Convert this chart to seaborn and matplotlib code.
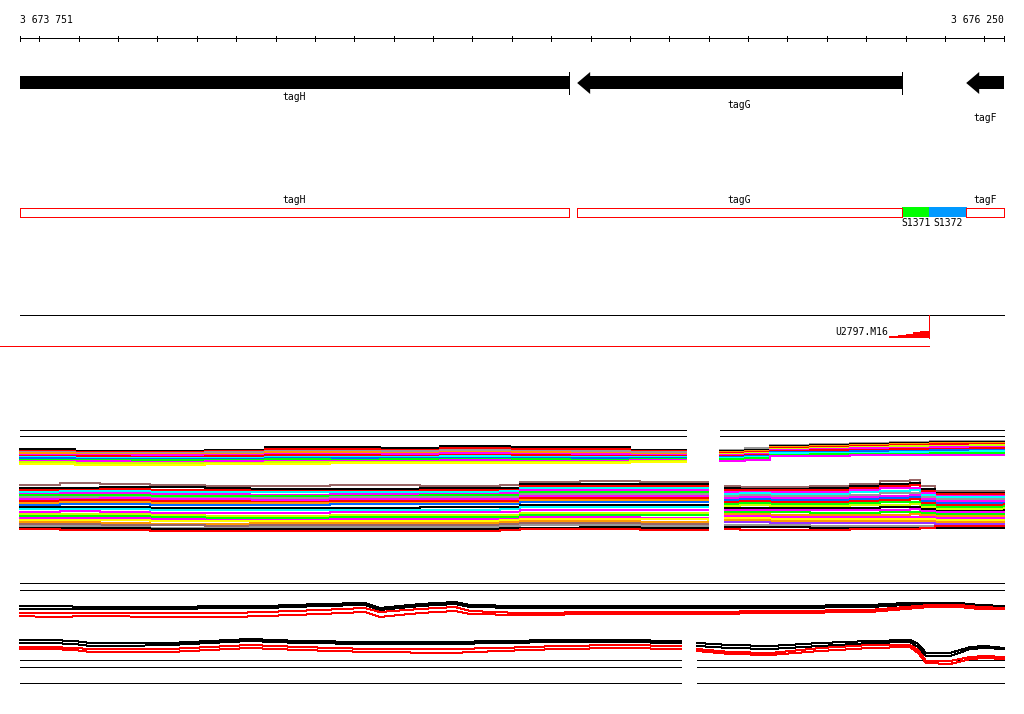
import numpy as np
import pandas as pd
import matplotlib
matplotlib.use("Agg")
import matplotlib.pyplot as plt
from matplotlib.patches import Rectangle, Polygon
import seaborn as sns

# ---- view ----
VIEW_START = 3673751
VIEW_END = 3676250

# ---- genes (minus strand, arrow points left) ----
gene_names = ["tagH", "tagG", "tagF"]
gene_start = [3673500, 3675166, 3676154]
gene_end = [3675145, 3675991, 3677000]
gene_label_y = [97, 105, 118]

# ---- segments between genes ----
seg_names = ["S1371", "S1372"]
seg_start = [3675991, 3676060]
seg_end = [3676060, 3676156]
seg_colors = ["#00ff00", "#0099ff"]

# ---- U2797.M16 feature ----
feat_name = "U2797.M16"
feat_line_start = 3673700
feat_end = 3676060
feat_step_x = [3675958, 3675981, 3676001, 3676019, 3676037, 3676060]
feat_step_y = [337, 336, 335, 334, 332, 331]

# ---- colours used in the signal tracks ----
C = {"k": "#000000", "r": "#ff0000", "m": "#ff00ff", "g": "#00ff00",
     "y": "#ffff00", "c": "#00ffff", "b": "#0066ff", "o": "#ff9900",
     "gr": "#999999", "br": "#996666", "ch": "#ccff00", "p": "#9933ff"}

# ---- block 1, horizontal guide lines ----
b1_guide_y = [430, 436]
b1_segs = [(3673751, 3675442), (3675529, 3676250)]

# block 1, upper left bundle
b1_ul_x = [3673751, 3673891, 3674030, 3674221, 3674373, 3674538,
           3674665, 3674818, 3674995, 3675148, 3675300, 3675442]
b1_ul_col = ["k", "r", "gr", "o", "m", "r", "c", "b", "g", "m", "ch", "y"]
b1_ul_y = [
    [449, 451, 451, 450, 447, 447, 448, 446, 447, 447, 450, 451],
    [451, 452, 452, 451, 449, 449, 450, 448, 449, 449, 451, 452],
    [452, 453, 453, 452, 451, 451, 451, 450, 451, 451, 452, 453],
    [453, 454, 454, 454, 452, 452, 453, 452, 452, 453, 454, 454],
    [455, 455, 455, 455, 454, 454, 454, 453, 454, 454, 455, 455],
    [456, 456, 457, 456, 455, 455, 456, 455, 455, 456, 456, 456],
    [457, 458, 458, 458, 457, 457, 457, 456, 457, 457, 457, 457],
    [458, 459, 459, 459, 458, 458, 458, 458, 458, 458, 458, 458],
    [460, 460, 460, 460, 459, 460, 459, 459, 459, 460, 459, 459],
    [461, 461, 462, 461, 461, 461, 461, 460, 461, 461, 460, 460],
    [462, 463, 463, 463, 462, 462, 462, 462, 462, 462, 461, 461],
    [464, 465, 465, 464, 464, 463, 463, 463, 463, 463, 462, 462],
]

# block 1, upper right bundle
b1_ur_x = [3675529, 3675592, 3675656, 3675757, 3675859, 3675960,
           3676062, 3676164, 3676250]
b1_ur_col = ["gr", "k", "o", "r", "ch", "m", "r", "b", "c", "g", "m"]
b1_ur_y = [
    [450, 448, 445, 444, 443, 442, 441, 441, 441],
    [451, 450, 446, 445, 444, 443, 442, 442, 442],
    [452, 451, 447, 446, 445, 444, 443, 443, 443],
    [453, 452, 448, 447, 446, 445, 444, 444, 444],
    [454, 453, 449, 448, 447, 446, 446, 445, 445],
    [455, 454, 450, 449, 448, 448, 447, 447, 447],
    [456, 455, 451, 450, 450, 449, 449, 448, 448],
    [457, 456, 452, 452, 451, 451, 450, 450, 450],
    [458, 457, 453, 453, 453, 452, 452, 451, 451],
    [459, 458, 455, 454, 454, 454, 453, 453, 453],
    [461, 460, 456, 456, 455, 455, 455, 455, 455],
]

# block 1, lower left bundle
b1_ll_x = [3673751, 3673853, 3673954, 3674081, 3674221, 3674335, 3674538,
           3674767, 3674970, 3675021, 3675173, 3675326, 3675498]
b1_ll_col = ["br", "k", "r", "c", "m", "g", "gr", "m", "r", "o", "b", "k",
             "c", "m", "ch", "g", "m", "y", "o", "br", "gr", "k", "r"]
b1_ll_y = [
    [485, 483, 484, 485, 486, 486, 485, 486, 485, 482, 481, 482, 483],
    [488, 488, 487, 487, 488, 489, 489, 488, 488, 484, 484, 484, 485],
    [490, 490, 489, 490, 490, 491, 491, 490, 490, 486, 486, 486, 487],
    [492, 491, 491, 492, 492, 492, 492, 492, 491, 488, 488, 488, 489],
    [494, 493, 493, 494, 494, 495, 494, 494, 493, 490, 490, 490, 490],
    [495, 495, 495, 496, 496, 496, 496, 495, 495, 492, 492, 492, 492],
    [497, 497, 497, 498, 498, 498, 497, 497, 497, 494, 494, 494, 494],
    [499, 499, 498, 499, 499, 500, 499, 499, 499, 496, 496, 496, 496],
    [501, 500, 500, 501, 501, 502, 501, 501, 501, 498, 498, 498, 498],
    [503, 502, 502, 503, 503, 503, 503, 503, 503, 500, 500, 500, 500],
    [505, 504, 504, 505, 505, 505, 504, 504, 504, 502, 502, 502, 502],
    [507, 507, 507, 508, 508, 508, 508, 507, 507, 505, 505, 505, 505],
    [509, 509, 509, 510, 510, 510, 510, 510, 509, 507, 507, 507, 507],
    [512, 511, 512, 513, 513, 513, 512, 512, 512, 510, 510, 510, 510],
    [514, 514, 514, 515, 516, 516, 515, 515, 515, 513, 513, 513, 513],
    [516, 516, 516, 517, 518, 518, 517, 517, 517, 515, 515, 515, 515],
    [518, 518, 518, 519, 520, 520, 519, 519, 519, 517, 517, 518, 518],
    [520, 520, 520, 521, 521, 521, 521, 521, 520, 519, 519, 519, 520],
    [522, 522, 523, 524, 524, 523, 523, 523, 522, 521, 521, 522, 522],
    [524, 524, 525, 525, 526, 525, 525, 525, 524, 523, 523, 524, 524],
    [526, 526, 527, 528, 528, 527, 527, 527, 526, 525, 525, 526, 526],
    [528, 528, 528, 529, 529, 529, 529, 529, 528, 528, 527, 528, 528],
    [529, 530, 530, 531, 531, 531, 531, 531, 530, 529, 529, 530, 530],
]

# block 1, lower right bundle
b1_lr_x = [3675541, 3675580, 3675656, 3675757, 3675859, 3675935,
           3676011, 3676037, 3676075, 3676151, 3676250]
b1_lr_col = ["br", "k", "r", "m", "c", "gr", "m", "b", "r", "g", "ch",
             "k", "m", "g", "o", "m", "y", "o", "p", "gr", "k", "r"]
b1_lr_y = [
    [486, 487, 487, 486, 484, 481, 480, 486, 491, 491, 491],
    [488, 489, 489, 488, 486, 484, 483, 489, 493, 493, 493],
    [490, 490, 490, 490, 488, 486, 485, 491, 494, 494, 494],
    [492, 492, 492, 492, 490, 488, 488, 493, 496, 496, 496],
    [494, 493, 494, 494, 492, 491, 490, 495, 497, 497, 497],
    [496, 495, 496, 496, 495, 493, 493, 497, 499, 499, 499],
    [498, 497, 498, 498, 497, 496, 495, 499, 501, 501, 501],
    [500, 499, 500, 500, 499, 498, 497, 501, 503, 503, 503],
    [502, 501, 502, 502, 501, 500, 499, 503, 505, 505, 504],
    [504, 503, 504, 504, 503, 502, 502, 505, 507, 507, 506],
    [506, 505, 506, 506, 505, 505, 504, 507, 509, 509, 508],
    [508, 508, 508, 508, 508, 507, 507, 509, 511, 511, 510],
    [510, 510, 510, 510, 510, 510, 509, 511, 512, 512, 512],
    [512, 512, 512, 513, 513, 512, 512, 513, 514, 514, 514],
    [514, 514, 515, 515, 515, 515, 514, 515, 516, 516, 516],
    [516, 516, 517, 517, 517, 517, 517, 517, 518, 518, 518],
    [518, 518, 519, 519, 519, 519, 519, 519, 520, 520, 520],
    [520, 520, 521, 521, 521, 521, 521, 521, 522, 522, 522],
    [522, 522, 523, 523, 523, 523, 523, 523, 524, 524, 524],
    [525, 525, 525, 526, 526, 526, 526, 526, 526, 527, 527],
    [527, 527, 527, 528, 528, 528, 528, 528, 528, 528, 528],
    [529, 530, 530, 530, 529, 529, 529, 528, 526, 526, 526],
]

# ---- block 2 ----
b2_top_y = [583, 590]
b2_bottom_y = [660, 667, 683]
b2_segs = [(3673751, 3675430), (3675470, 3676250)]

b2_up_x = [3673751, 3673827, 3673941, 3674119, 3674284, 3674373, 3674513,
           3674627, 3674665, 3674767, 3674856, 3674894, 3675021, 3675249,
           3675478, 3675681, 3675910, 3675999, 3676062, 3676138, 3676189,
           3676250]
b2_up_col = ["k", "k", "r", "r"]
b2_up_y = [
    [606, 606, 607, 607, 606, 606, 604, 603, 608, 604, 602, 605, 606, 606, 606, 606, 605, 603, 603, 603, 605, 606],
    [609, 609, 609, 609, 608, 608, 606, 605, 610, 606, 604, 607, 608, 608, 608, 608, 607, 605, 604, 604, 606, 607],
    [613, 613, 613, 613, 613, 612, 610, 608, 612, 609, 607, 611, 613, 612, 612, 611, 610, 607, 605, 605, 607, 608],
    [616, 617, 616, 617, 617, 616, 614, 612, 617, 613, 611, 614, 615, 614, 614, 613, 612, 609, 607, 607, 609, 609],
]

b2_ll_x = [3673751, 3673827, 3673891, 3673929, 3674005, 3674132, 3674335,
           3674462, 3674640, 3674843, 3674970, 3675122, 3675275, 3675430]
b2_ll_col = ["k", "k", "r", "r"]
b2_ll_y = [
    [640, 640, 641, 643, 643, 643, 639, 641, 642, 642, 641, 640, 640, 641],
    [643, 643, 644, 646, 646, 645, 641, 643, 644, 644, 643, 642, 642, 643],
    [647, 647, 648, 649, 649, 649, 645, 647, 649, 649, 648, 646, 645, 646],
    [649, 649, 650, 652, 652, 652, 648, 650, 652, 653, 651, 649, 648, 649],
]

b2_lr_x = [3675470, 3675554, 3675656, 3675783, 3675910, 3676011, 3676032,
           3676052, 3676113, 3676164, 3676202, 3676250]
b2_lr_col = ["k", "k", "r", "r"]
b2_lr_y = [
    [643, 645, 646, 643, 641, 640, 644, 653, 653, 647, 646, 648],
    [646, 648, 649, 646, 643, 642, 647, 656, 656, 649, 648, 649],
    [649, 652, 653, 648, 645, 645, 650, 661, 661, 657, 656, 657],
    [651, 654, 655, 651, 648, 647, 653, 663, 664, 659, 658, 659],
]

FONT = dict(family="DejaVu Sans Mono", fontsize=7, color="black")
BP_PER_PX = (VIEW_END - VIEW_START) / 984.0
HEAD_BP = 33
THIN = 0.72


def fmt(v):
    return f"{v:,}".replace(",", " ")


def draw_bundle(ax, xs, ys, cols, lw, step):
    rows = []
    for i, line in enumerate(ys):
        for x, y in zip(xs, line):
            rows.append({"line": i, "x": x, "y": y})
    df = pd.DataFrame(rows)
    pal = {i: C[c] for i, c in enumerate(cols)}
    kw = dict(drawstyle="steps-post") if step else {}
    sns.lineplot(data=df, x="x", y="y", hue="line", palette=pal, ax=ax,
                 estimator=None, sort=False, legend=False, linewidth=lw,
                 antialiased=False, **kw)


def hlines(ax, ys, segs, color="black"):
    for y in ys:
        for a, b in segs:
            ax.plot([a, b], [y, y], color=color, lw=THIN, antialiased=False)


sns.set_theme(style="white")
fig = plt.figure(figsize=(10.24, 7.14), dpi=100)
ax = fig.add_axes([0, 0, 1, 1])
ax.set_xlim(VIEW_START - 20 * BP_PER_PX, VIEW_START + 1004 * BP_PER_PX)
ax.set_ylim(714, 0)
ax.axis("off")

# ruler
ax.plot([VIEW_START, VIEW_END], [38, 38], color="black", lw=THIN, antialiased=False)
ticks = [VIEW_START] + list(range(3673800, VIEW_END, 100)) + [VIEW_END]
for t in ticks:
    ax.plot([t, t], [35.5, 41], color="black", lw=THIN, antialiased=False)
ax.text(VIEW_START, 20, fmt(VIEW_START), ha="left", va="center", **FONT)
ax.text(VIEW_END, 20, fmt(VIEW_END), ha="right", va="center", **FONT)

# gene arrows
for name, s, e, ly in zip(gene_names, gene_start, gene_end, gene_label_y):
    lo, hi = max(s, VIEW_START), min(e, VIEW_END)
    if s >= VIEW_START:
        pts = [(lo, 83), (lo + HEAD_BP, 72), (lo + HEAD_BP, 76), (hi, 76),
               (hi, 89), (lo + HEAD_BP, 89), (lo + HEAD_BP, 94)]
    else:
        pts = [(lo, 76), (hi, 76), (hi, 89), (lo, 89)]
    ax.add_patch(Polygon(pts, closed=True, facecolor="black", edgecolor="none"))
    if e <= VIEW_END:
        ax.plot([e, e], [72, 94], color="black", lw=THIN, antialiased=False)
    ax.text((lo + hi) / 2, ly, name, ha="center", va="center", **FONT)

# gene boxes and segments
for name, s, e, c in zip(seg_names, seg_start, seg_end, seg_colors):
    ax.add_patch(Rectangle((s, 207), e - s, 10, facecolor=c, edgecolor="none"))
    ax.text((s + e) / 2, 223, name, ha="center", va="center", **FONT)
for name, s, e in zip(gene_names, gene_start, gene_end):
    lo, hi = max(s, VIEW_START), min(e, VIEW_END)
    ax.add_patch(Rectangle((lo, 207.5), hi - lo, 9.5, facecolor="none",
                           edgecolor="#ff0000", lw=THIN, antialiased=False))
    ax.text((lo + hi) / 2, 200, name, ha="center", va="center", **FONT)

# U2797.M16 feature
ax.plot([VIEW_START, VIEW_END], [315, 315], color="black", lw=THIN, antialiased=False)
ax.plot([feat_line_start, feat_end], [346, 346], color="#ff0000", lw=THIN, antialiased=False)
ax.plot([feat_end, feat_end], [315, 338], color="#ff0000", lw=THIN, antialiased=False)
ax.fill_between(feat_step_x, feat_step_y, 338, step="pre", color="#ff0000", lw=0)
ax.text(feat_step_x[0] - 2, 332, feat_name, ha="right", va="center", **FONT)

# block 1
hlines(ax, b1_guide_y, b1_segs)
draw_bundle(ax, b1_ul_x, b1_ul_y, b1_ul_col, 1.1, True)
draw_bundle(ax, b1_ur_x, b1_ur_y, b1_ur_col, 1.1, True)
draw_bundle(ax, b1_ll_x, b1_ll_y, b1_ll_col, 1.1, True)
draw_bundle(ax, b1_lr_x, b1_lr_y, b1_lr_col, 1.1, True)

# block 2
hlines(ax, b2_top_y, [(VIEW_START, VIEW_END)])
hlines(ax, b2_bottom_y, b2_segs)
draw_bundle(ax, b2_up_x, b2_up_y, b2_up_col, THIN, False)
draw_bundle(ax, b2_ll_x, b2_ll_y, b2_ll_col, THIN, False)
draw_bundle(ax, b2_lr_x, b2_lr_y, b2_lr_col, THIN, False)

fig.savefig("out.png", dpi=100, facecolor="white")
